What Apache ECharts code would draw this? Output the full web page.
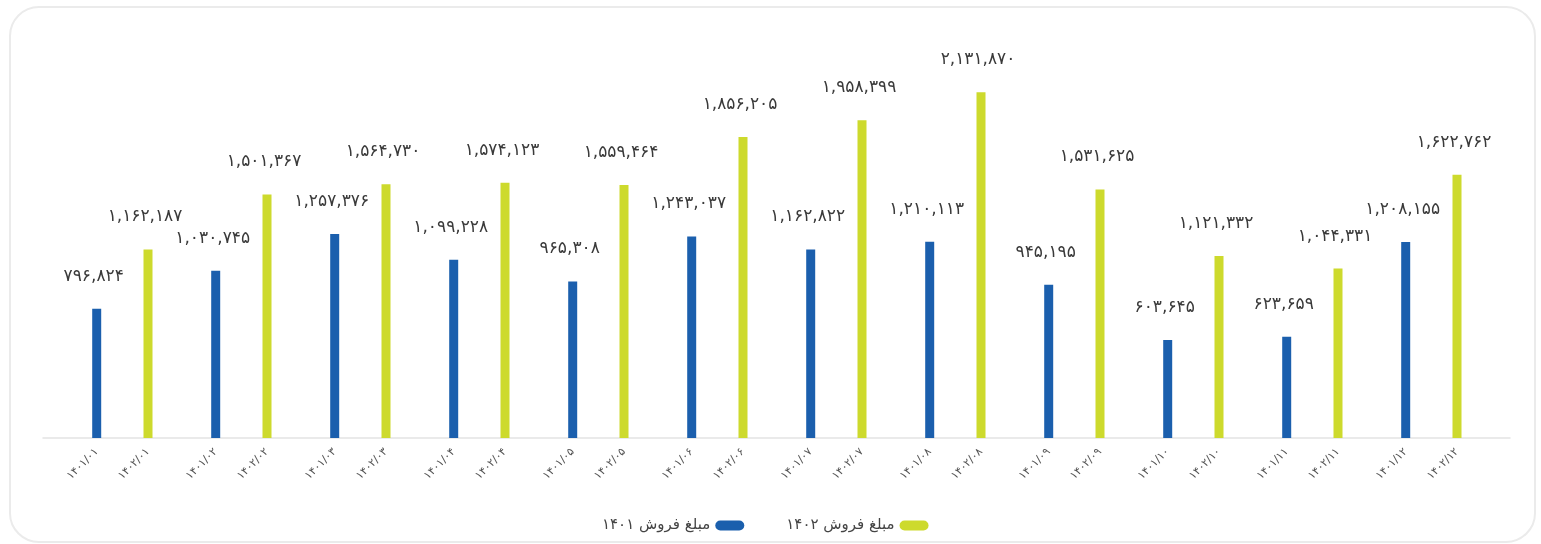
<!DOCTYPE html>
<html><head><meta charset="utf-8">
<script src="https://cdn.jsdelivr.net/npm/echarts@6/dist/echarts.min.js"></script>
<style>
html,body{margin:0;padding:0;background:#fff;}
#card{position:absolute;left:9px;top:6px;width:1527px;height:537px;border:2px solid #ebebeb;border-radius:30px;box-sizing:border-box;}
#chart{position:absolute;left:0;top:0;width:1541px;height:544px;}
</style></head><body>
<div id="card"></div><div id="chart"></div>
<script>
const months = ['۰۱','۰۲','۰۳','۰۴','۰۵','۰۶','۰۷','۰۸','۰۹','۱۰','۱۱','۱۲'];
const labels1401 = ['۱۴۰۱/۰۱','۱۴۰۱/۰۲','۱۴۰۱/۰۳','۱۴۰۱/۰۴','۱۴۰۱/۰۵','۱۴۰۱/۰۶','۱۴۰۱/۰۷','۱۴۰۱/۰۸','۱۴۰۱/۰۹','۱۴۰۱/۱۰','۱۴۰۱/۱۱','۱۴۰۱/۱۲'];
const labels1402 = ['۱۴۰۲/۰۱','۱۴۰۲/۰۲','۱۴۰۲/۰۳','۱۴۰۲/۰۴','۱۴۰۲/۰۵','۱۴۰۲/۰۶','۱۴۰۲/۰۷','۱۴۰۲/۰۸','۱۴۰۲/۰۹','۱۴۰۲/۱۰','۱۴۰۲/۱۱','۱۴۰۲/۱۲'];
const sales1401 = [796824, 1030745, 1257376, 1099228, 965308, 1243037, 1162822, 1210113, 945195, 603645, 623659, 1208155];
const sales1402 = [1162187, 1501367, 1564730, 1574123, 1559464, 1856205, 1958399, 2131870, 1531625, 1121332, 1044331, 1622762];
const seriesNames = ['مبلغ فروش ۱۴۰۱', 'مبلغ فروش ۱۴۰۲'];

const FONT = 'DejaVu Sans';
const BLUE = '#1B5FAD', YELLOW = '#CDDA2D';
const fa = v => String(v).replace(/\B(?=(\d{3})+(?!\d))/g, ',').replace(/\d/g, d => '۰۱۲۳۴۵۶۷۸۹'[d]);

const gridTop = 32.5, gridBottom = 106;
const chart = echarts.init(document.getElementById('chart'));
const pill = 'path://M5,0 H24 A5,5 0 0 1 24,10 H5 A5,5 0 0 1 5,0 Z';
const hiddenY = i => ({ type: 'value', gridIndex: i, show: false, min: 0, max: 2500000 });
const labelAxis = (i, data) => ({
  type: 'category', gridIndex: i, data: data,
  axisLine: { show: false }, axisTick: { show: false }, splitLine: { show: false },
  axisLabel: { interval: 0, rotate: 45, margin: 12, fontSize: 11, color: '#555', fontFamily: FONT, hideOverlap: false }
});
const gridBase = { top: gridTop, bottom: gridBottom, containLabel: false, outerBoundsMode: 'none' };
const valueLabel = { show: true, position: 'top', distance: 24, offset: [-3, 0], formatter: p => fa(p.value), fontSize: 17, color: '#3a3a3a', fontFamily: FONT };
chart.setOption({
  animation: false,
  textStyle: { fontFamily: FONT },
  grid: [
    Object.assign({ left: 62.85, right: 50.15 }, gridBase),
    Object.assign({ left: 37.2, right: 75.8 }, gridBase),
    Object.assign({ left: 88.5, right: 24.5 }, gridBase),
    Object.assign({ left: 43, right: 31 }, gridBase)
  ],
  legend: {
    data: seriesNames,
    left: 597, top: 513,
    align: 'right',
    itemWidth: 29, itemHeight: 10, itemGap: 42,
    icon: pill,
    textStyle: { fontSize: 15, color: '#444', fontFamily: FONT }
  },
  xAxis: [
    { type: 'category', gridIndex: 0, data: months, axisLine: { show: false }, axisTick: { show: false }, axisLabel: { show: false } },
    labelAxis(1, labels1401),
    labelAxis(2, labels1402),
    { type: 'value', gridIndex: 3, min: 0, max: 1, axisLine: { show: true, lineStyle: { color: '#e3e3e3', width: 1.5 } }, axisTick: { show: false }, axisLabel: { show: false }, splitLine: { show: false } }
  ],
  yAxis: [hiddenY(0), hiddenY(1), hiddenY(2), hiddenY(3)],
  series: [
    {
      name: seriesNames[0], type: 'bar', xAxisIndex: 0, yAxisIndex: 0,
      data: sales1401, barWidth: 9, barGap: '470%',
      itemStyle: { color: BLUE },
      label: valueLabel
    },
    {
      name: seriesNames[1], type: 'bar', xAxisIndex: 0, yAxisIndex: 0,
      data: sales1402, barWidth: 9, barGap: '470%',
      itemStyle: { color: YELLOW },
      label: valueLabel
    }
  ]
});
</script>
</body></html>
